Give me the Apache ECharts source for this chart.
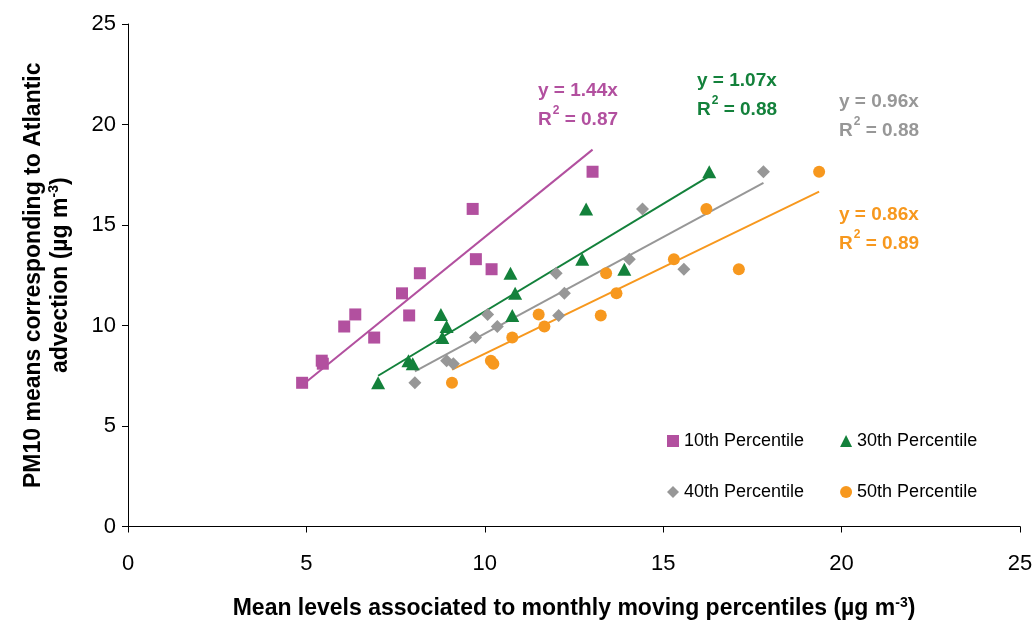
<!DOCTYPE html>
<html>
<head>
<meta charset="utf-8">
<script src="https://cdn.jsdelivr.net/npm/echarts@6/dist/echarts.min.js"></script>
<style>
html,body{margin:0;padding:0;background:#fff;}
#c{width:1036px;height:625px;}
</style>
</head>
<body>
<div id="c"></div>
<script>
// ---- data ----
const seriesNames = ['10th Percentile', '30th Percentile', '40th Percentile', '50th Percentile'];
const p10 = [[4.88,7.15],[5.43,8.25],[5.46,8.1],[6.06,9.95],[6.37,10.55],[6.90,9.4],[7.68,11.6],[7.88,10.5],[8.18,12.6],[9.66,15.8],[9.75,13.3],[10.19,12.8],[13.02,17.65]];
const p30 = [[7.01,7.15],[7.86,8.25],[7.98,8.1],[8.93,9.95],[8.77,10.55],[8.81,9.4],[10.72,12.6],[10.85,11.6],[10.77,10.5],[12.84,15.8],[12.73,13.3],[13.91,12.8],[16.29,17.65]];
const p40 = [[8.04,7.15],[8.93,8.25],[9.12,8.1],[10.35,9.95],[10.08,10.55],[9.74,9.4],[12.0,12.6],[12.23,11.6],[12.07,10.5],[14.42,15.8],[14.05,13.3],[15.58,12.8],[17.81,17.65]];
const p50 = [[9.08,7.15],[10.17,8.25],[10.24,8.1],[11.67,9.95],[11.51,10.55],[10.77,9.4],[13.40,12.6],[13.69,11.6],[13.25,10.5],[16.21,15.8],[15.30,13.3],[17.12,12.8],[19.37,17.65]];
const slopes = [1.44, 1.07, 0.96, 0.86];
const r2 = ['0.87', '0.88', '0.88', '0.89'];
const xTicks = [0, 5, 10, 15, 20, 25];
const yTicks = [0, 5, 10, 15, 20, 25];

const colors = ['#B2509F', '#13813B', '#979797', '#F7981E'];
const symbols = ['rect', 'triangle', 'diamond', 'circle'];
const symbolSizes = [12, [14, 13], 13, 12];
const points = [p10, p30, p40, p50];
const FONT = '"Liberation Sans", Arial, sans-serif';

const chart = echarts.init(document.getElementById('c'), null, {renderer: 'canvas'});

const series = [];
points.forEach((pts, i) => {
  series.push({
    name: seriesNames[i],
    type: 'scatter',
    data: pts,
    symbol: symbols[i],
    symbolSize: symbolSizes[i],
    itemStyle: {color: colors[i], opacity: 1},
    z: 3
  });
});
points.forEach((pts, i) => {
  const xs = pts.map(p => p[0]);
  const xmin = Math.min(...xs), xmax = Math.max(...xs);
  series.push({
    name: 'trend' + i,
    type: 'line',
    data: [[xmin, slopes[i] * xmin], [xmax, slopes[i] * xmax]],
    symbol: 'none',
    lineStyle: {color: colors[i], width: 2},
    silent: true,
    z: 2
  });
});

const annPos = [[538, 81], [697, 71], [839, 92], [839, 205]];
const graphics = slopes.map((s, i) => ({
  type: 'text',
  left: annPos[i][0],
  top: annPos[i][1],
  style: {
    text: '{a|y = ' + s.toFixed(2) + 'x}\n{a|R}{s|2}{a| = ' + r2[i] + '}',
    rich: {
      a: {fontFamily: FONT, fontSize: 19, fontWeight: 'bold', fill: colors[i], lineHeight: 29},
      s: {fontFamily: FONT, fontSize: 12, fontWeight: 'bold', fill: colors[i], lineHeight: 29, verticalAlign: 'top', padding: [0, 0, 12, 1]}
    }
  }
}));

const supRich = {
  sup: {fontSize: 14, fontWeight: 'bold', fontFamily: FONT, color: '#000', verticalAlign: 'top', padding: [0, 0, 10, 0]}
};

chart.setOption({
  animation: false,
  backgroundColor: '#fff',
  textStyle: {fontFamily: FONT},
  grid: {left: 128, right: 16, top: 24, bottom: 97, containLabel: false},
  xAxis: {
    type: 'value', min: 0, max: 25, interval: 5,
    name: 'Mean levels associated to monthly moving percentiles (µg m{sup|-3})',
    nameLocation: 'middle', nameGap: 70,
    nameTextStyle: {fontSize: 23, fontWeight: 'bold', color: '#000', fontFamily: FONT, rich: supRich},
    axisLine: {lineStyle: {color: '#000', width: 1}},
    axisTick: {show: true, inside: false, length: 6, lineStyle: {color: '#000'}},
    axisLabel: {fontSize: 22, color: '#000', margin: 26, fontFamily: FONT,
      formatter: v => xTicks.includes(v) ? String(v) : ''},
    splitLine: {show: false}
  },
  yAxis: {
    type: 'value', min: 0, max: 25, interval: 5,
    name: 'PM10 means corresponding to Atlantic\nadvection (µg m{sup|-3})',
    nameLocation: 'middle', nameGap: 54, nameRotate: 90,
    nameTextStyle: {fontSize: 23, fontWeight: 'bold', color: '#000', fontFamily: FONT, lineHeight: 27, rich: supRich},
    axisLine: {show: true, lineStyle: {color: '#000', width: 1}},
    axisTick: {show: true, inside: false, length: 6, lineStyle: {color: '#000'}},
    axisLabel: {fontSize: 22, color: '#000', margin: 12, fontFamily: FONT,
      formatter: v => yTicks.includes(v) ? String(v) : ''},
    splitLine: {show: false}
  },
  legend: [
    {
      data: [seriesNames[0], seriesNames[1]],
      left: 662, top: 427, orient: 'horizontal',
      itemWidth: 12, itemHeight: 12, itemGap: 36,
      textStyle: {fontSize: 18, color: '#000', fontFamily: FONT},
      selectedMode: false
    },
    {
      data: [seriesNames[2], seriesNames[3]],
      left: 662, top: 478, orient: 'horizontal',
      itemWidth: 12, itemHeight: 12, itemGap: 36,
      textStyle: {fontSize: 18, color: '#000', fontFamily: FONT},
      selectedMode: false
    }
  ],
  graphic: graphics,
  series: series
});
</script>
</body>
</html>
